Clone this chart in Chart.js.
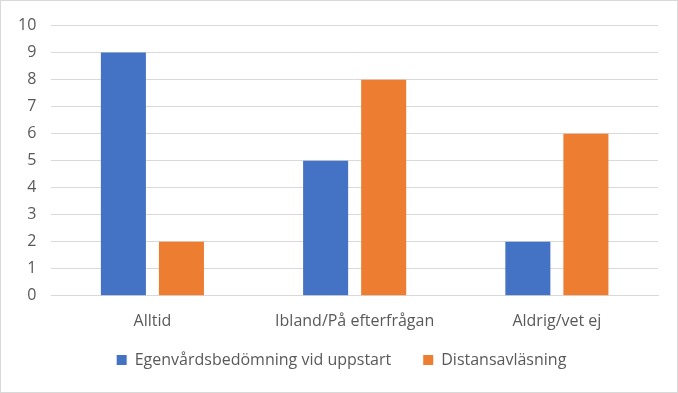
<!DOCTYPE html>
<html>
<head>
<meta charset="utf-8">
<script src="https://cdn.jsdelivr.net/npm/chart.js@4"></script>
<style>
  html, body { margin: 0; padding: 0; background: #fff; }
  #wrap { width: 678px; height: 393px; box-sizing: border-box; border: 1px solid #d9d9d9; }
</style>
</head>
<body>
<div id="wrap"><canvas id="chart" width="676" height="391"></canvas></div>
<script>
//categories and series
const categories = ["Alltid", "Ibland/På efterfrågan", "Aldrig/vet ej"]
const egenvard = [9, 5, 2]
const distans = [2, 8, 6]
const seriesNames = ["Egenvårdsbedömning vid uppstart", "Distansavläsning"]

const textColor = "#595959"
const gridColor = "#d9d9d9"
const font = {family: "'Open Sans', sans-serif", size: 16}

//the legend needs wide gaps between items but a short box, so squeeze it a bit
const legendSpacing = {
    id: "legendSpacing",
    beforeInit(chart) {
        const fit = chart.legend.fit
        chart.legend.fit = function() {
            fit.call(this)
            this.height -= 5
        }
    },
    afterLayout(chart) {
        const legend = chart.legend
        legend.top -= 19
        legend.left += 11 //centre on the whole picture, not the padded box
        legend.right += 11
    }
}

new Chart("chart", {
    type: "bar",
    data: {
        labels: categories,
        datasets: [
            {label: seriesNames[0], data: egenvard, backgroundColor: "#4472c4"},
            {label: seriesNames[1], data: distans, backgroundColor: "#ed7d31"}
        ]
    },
    options: {
        responsive: false,
        animation: false,
        categoryPercentage: 0.574,
        barPercentage: 0.776,
        layout: {padding: {left: 2, right: 19, top: 16, bottom: 0}},
        scales: {
            x: {
                grid: {display: false},
                border: {display: true, color: gridColor},
                ticks: {color: textColor, font: font, padding: 8}
            },
            y: {
                min: 0, max: 10,
                grid: {color: gridColor, drawTicks: false},
                border: {display: false},
                ticks: {stepSize: 1, color: textColor, font: font, padding: 15}
            }
        },
        plugins: {
            legend: {
                position: "bottom",
                labels: {boxWidth: 10, boxHeight: 10, color: textColor, font: font, padding: 32}
            },
            tooltip: {enabled: false}
        }
    },
    plugins: [legendSpacing]
})
</script>
</body>
</html>
